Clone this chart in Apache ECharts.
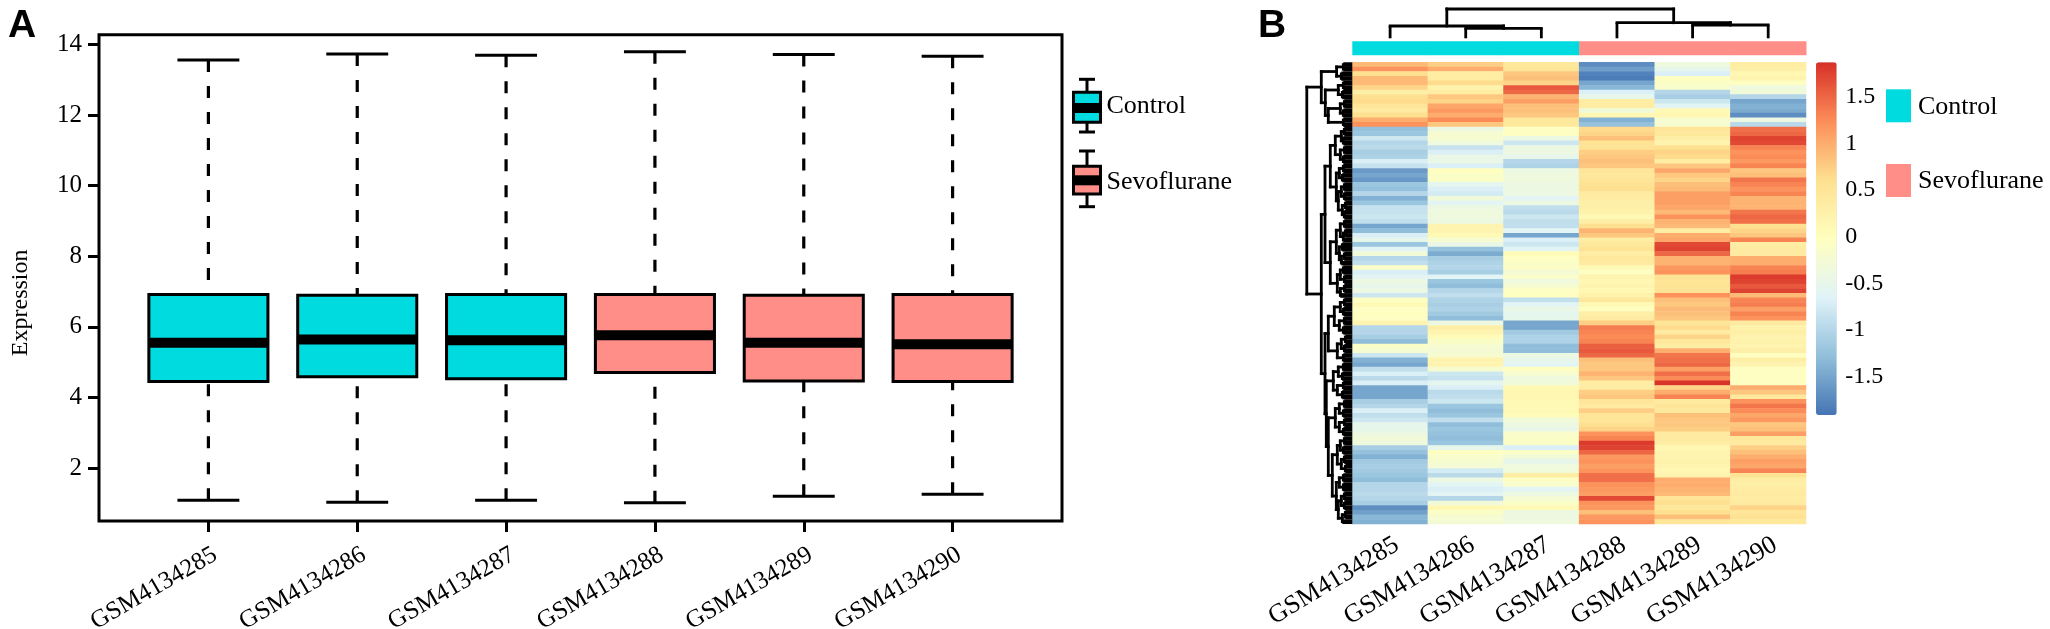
<!DOCTYPE html>
<html><head><meta charset="utf-8">
<style>html,body{margin:0;padding:0;background:#fff}#c{width:2050px;height:629px}</style>
<script src="https://cdn.jsdelivr.net/npm/echarts@6/dist/echarts.min.js"></script>
</head><body><div id="c"></div>
<script>
const samples = ['GSM4134285','GSM4134286','GSM4134287','GSM4134288','GSM4134289','GSM4134290'];
const groups = ['Control','Control','Control','Sevoflurane','Sevoflurane','Sevoflurane'];
const lowerWhisker = [1.09,1.03,1.09,1.02,1.20,1.26];
const q1 = [4.45,4.59,4.53,4.71,4.47,4.45];
const median = [5.55,5.64,5.62,5.76,5.55,5.51];
const q3 = [6.92,6.90,6.92,6.92,6.90,6.92];
const upperWhisker = [13.56,13.73,13.70,13.80,13.72,13.67];
const yTicks = [2,4,6,8,10,12,14];
const colorbarTicks = [-1.5,-1,-0.5,0,0.5,1,1.5];
const heatColors = ['#4575B4','#91BFDB','#E0F3F8','#FFFFBF','#FEE090','#FC8D59','#D73027'];
const groupColors = {Control:'#00DBE0',Sevoflurane:'#FF8E88'};

const col285 = [.9,1.2,.6,.9,.9,.7,.3,.6,.65,.5,.4,.6,1.0,1.2,
-1.25,-1.2,-.8,-1.0,-.95,-1.1,-1.05,-.7,-.85,-1.6,-1.5,-1.6,-1.2,-1.25,-1.0,-1.4,-1.2,-.85,-.85,-.8,
-.9,-1.5,-1.3,-.7,-.5,-1.2,-.6,-.3,-1.0,-.9,-.1,-.7,-.6,-.4,-.5,-.4,-.8,-.05,.1,-.05,0,-.05,.2,-1.0,-1.0,-1.1,-1.3,-.1,-.2,-.8,-1.4,-1.5,-.9,
-.7,-.95,-.7,-1.5,-1.5,-1.5,-1.1,-1.0,-.7,-.9,-.8,-.5,-.5,-.4,-.3,-.35,-1.1,-1.25,-1.4,-1.15,-1.1,-1.15,-1.2,-1.3,-1.0,-1.0,-.95,-1.0,-1.1,-1.7,-1.55,-1.35,-1.4];
const col286 = [.75,1.0,.35,.35,.65,.25,.35,.8,.7,1.05,1.15,1.0,1.25,.8,
-.4,-.2,-.2,-.35,-.85,-.7,-.45,-.45,-.7,0,-.1,-.1,-.55,-.7,-.75,-.3,-.6,-.4,-.35,-.35,
-.4,.2,.2,.1,-.2,-.45,-1.25,-1.45,-1.1,-1.05,-1.0,-1.1,-.6,-1.2,-1.3,-1.0,-.9,-1.05,-1.1,-1.05,-1.15,-1.3,-.4,.3,.2,.05,-.1,-.2,-.25,-.2,.2,.2,-.2,
-.8,-.85,-.55,-.7,-.95,-.9,-.8,-1.2,-1.3,-1.2,-.9,-1.3,-1.2,-1.25,-1.3,-1.2,-.5,-.05,-.15,-.2,-.25,-.75,-.95,-.4,-.6,-.7,-.6,-1.0,-.3,.15,-.1,-.2,-.25];
const col287 = [.45,.5,.8,.85,.7,1.6,1.5,.95,1.1,.85,.85,.8,.45,.45,
-.05,-.05,-.4,-.8,-.4,-.4,-.5,-1.0,-1.05,-.4,-.35,-.35,-.4,-.4,-.4,-.6,-.4,-.9,-.95,-.8,
-.9,-.9,-.6,-1.5,-.7,-.8,-.6,.05,-.05,-.1,-.1,-.25,-.15,-.35,-.2,-.05,-.05,-.9,-.6,-.45,-.55,-.5,-1.5,-1.5,-1.15,-1.05,-1.05,-1.3,-1.3,-.4,-.5,-.6,-.05,
-.2,-.35,-.3,.1,.15,.15,.1,.1,.1,.05,-.3,-.4,-.45,-.15,-.1,-.1,-.7,-.1,-.3,-.5,-.35,-.3,.35,-.1,-.15,-.6,-.4,-.25,-.1,.1,-.4,-.4,-.35];
const col288 = [-1.7,-1.55,-1.8,-1.85,-1.5,-1.35,-.7,-.5,.35,.35,-.3,.15,-1.4,-1.25,
.65,.7,.85,.55,.55,.75,.8,.85,.8,.5,.45,.5,.55,.6,.4,.35,.3,.3,.25,.1,
.3,.6,.95,.8,.35,.45,.55,.35,.45,.4,.1,-.05,.2,.15,.2,.15,.25,.45,.1,0,.3,.4,.75,1.35,1.3,1.25,1.3,1.55,1.6,1.5,.85,.8,.8,
.95,.8,.35,.35,.75,.8,.5,.4,.75,.5,.5,.6,.7,1.2,1.3,1.8,1.75,1.5,1.15,1.2,1.1,1.2,1.45,1.45,1.2,1.15,1.1,1.7,1.2,1.15,.85,1.15,1.2];
const col289 = [-.35,-.5,-.7,-.05,-.1,-.15,-1.0,-1.1,-.8,-.6,.1,.15,-.2,-.2,
.5,.45,.3,.2,.6,.7,.65,.35,.8,1.05,.8,.7,.85,.9,1.1,1.1,1.1,1.05,.9,1.2,
.95,.9,.35,1.0,1.05,1.7,1.75,1.5,.95,.95,1.15,1.2,.55,.5,.55,.55,1.2,.85,.8,.9,.85,.8,.5,.65,.4,.7,.45,.35,1.0,1.4,1.45,1.5,1.1,
1.45,1.25,1.85,.7,1.0,1.3,.4,.5,.45,.85,.8,.8,.75,.4,.4,.35,.15,.2,.2,.25,.2,.15,.2,1.0,1.0,.95,.9,.5,.6,.45,.6,.85,.5];
const col290 = [.35,.3,.15,.2,-.05,-.35,-.3,-1.0,-1.5,-1.4,-1.45,-1.7,-.4,-.95,
1.45,1.5,1.75,1.7,1.3,1.2,1.25,1.15,1.3,.8,.85,1.4,1.3,1.2,1.3,.95,.95,.95,1.4,1.5,
1.45,.6,.7,.8,1.3,.35,.4,.4,1.0,1.0,1.3,1.35,1.8,1.75,1.6,1.75,.9,1.3,1.35,1.1,1.3,1.2,.4,.25,.3,.2,.25,.2,.3,-.05,.3,.2,-.05,
-.05,-.05,-.05,1.0,.8,.45,1.2,1.4,1.25,1.05,1.15,.8,.85,1.1,.45,.4,.75,.85,1.0,1.1,1.05,1.3,.55,.35,.3,.35,.4,.35,.4,.7,.5,.55,.45];
const heatColumns = [col285,col286,col287,col288,col289,col290];

// Dendrograms: [height, firstChild, secondChild]; a bare number is a leaf position.
const colTree = [29.3,[12.3,0,[10,1,2]],[15.6,3,[13.3,4,5]]];
const rowTree = [45.5,
 [31,[15.7,[9,0,1],[11,2,3]],[27,[14,[9,4,5],[10,6,7]],[24,[12,[8,8,9],[9,10,11]],[9,12,13]]]],
 [31,
  [27.3,
   [22,[17,[11,[8,14,15],[9,16,17]],[12,[8,18,19],[9,20,21]]],
       [16,[13,[9,22,23],[10,24,25]],[14,[11,[8,26,27],[8,28,29]],[10,[7,30,31],[8,32,33]]]]],
   [22,[16,[12,[8,34,35],[9,[7,36,37],38]],[13,[10,39,40],[11,[8,41,42],43]]],
       [15,[12,[9,44,45],[8,46,47]],[12,[8,48,49],50]]]],
  [27.3,
   [24,[18,[12,[8,51,52],[9,53,54]],[13,[8,55,56],[9,57,58]]],[15,[11,[7,59,60],[8,61,62]],[9,63,64]]],
   [26,[19,[14,[9,65,66],[10,67,68]],[15,[9,69,70],[10,71,72]]],
       [24,[17,[13,[8,73,74],[9,75,76]],[13,[8,77,78],[9,79,80]]],
           [20,[15,[12,[8,81,82],[9,83,84]],[11,[8,85,86],[7,87,88]]],
               [16,[13,[9,89,90],[9,91,92]],[14,[11,[8,93,94],[8,95,96]],[10,[7,97,98],99]]]]]]]]];

function flatten(node, out){
  if(typeof node==='number') return {pos:node,h:0};
  const a=flatten(node[1],out), b=flatten(node[2],out), h=node[0];
  out.push([a.pos,h,b.pos,h,0]);
  out.push([a.pos,h,a.pos,a.h,a.h===0?1:0]);
  out.push([b.pos,h,b.pos,b.h,b.h===0?1:0]);
  return {pos:(a.pos+b.pos)/2,h};
}
const colSegs=[]; flatten(colTree,colSegs);
const rowSegs=[]; flatten(rowTree,rowSegs);

const heatData=[];
heatColumns.forEach((c,x)=>c.forEach((v,y)=>heatData.push([x,y,v])));
const rowLabels=col285.map((_,i)=>String(i));
const boxData=samples.map((s,i)=>[i+1,lowerWhisker[i],q1[i],median[i],q3[i],upperWhisker[i],groups[i]]);

const serif='"Liberation Serif","Times New Roman",serif';
const hidden={show:false};

function renderBox(params,api){
  const x=api.value(0), lo=api.value(1), a=api.value(2), m=api.value(3), b=api.value(4), hi=api.value(5);
  const color=groupColors[boxData[params.dataIndex][6]];
  const P=(px,py)=>api.coord([px,py]);
  const line=(p,q,w,dash)=>({type:'line',shape:{x1:p[0],y1:p[1],x2:q[0],y2:q[1]},
    style:{stroke:'#000',lineWidth:w,lineDash:dash||null,fill:null}});
  const tl=P(x-.4,b), br=P(x+.4,a);
  return {type:'group',children:[
    line(P(x,hi),P(x,b),3.2,[12,14]),
    line(P(x,lo),P(x,a),3.2,[12,14]),
    line(P(x-.208,hi),P(x+.208,hi),3),
    line(P(x-.208,lo),P(x+.208,lo),3),
    {type:'rect',shape:{x:tl[0],y:tl[1],width:br[0]-tl[0],height:br[1]-tl[1]},style:{fill:color,stroke:'#000',lineWidth:3}},
    line(P(x-.4,m),P(x+.4,m),10)
  ]};
}
function renderSeg(params,api){
  const p=api.coord([api.value(0),api.value(1)]), q=api.coord([api.value(2),api.value(3)]);
  return {type:'line',shape:{x1:p[0],y1:p[1],x2:q[0],y2:q[1]},
    style:{stroke:'#000',lineWidth:2.8,lineCap:api.value(4)===1?'butt':'square',fill:null}};
}
function renderSegRow(params,api){
  const p=api.coord([api.value(1),api.value(0)]), q=api.coord([api.value(3),api.value(2)]);
  return {type:'line',shape:{x1:p[0],y1:p[1],x2:q[0],y2:q[1]},
    style:{stroke:'#000',lineWidth:api.value(4)===1?4.7:2.8,lineCap:api.value(4)===1?'butt':'square',fill:null}};
}
function renderAnn(params,api){
  const i=api.value(0);
  const tl=api.coord([i-.5,1]), br=api.coord([i+.5,0]);
  return {type:'rect',shape:{x:tl[0],y:tl[1],width:br[0]-tl[0]+.5,height:br[1]-tl[1]},
    style:{fill:groupColors[groups[i]]}};
}
function legendBox(cx,capT,boxT,boxB,med,capB,color,label,textY){
  const l=(x1,y1,x2,y2,w)=>({type:'line',shape:{x1,y1,x2,y2},style:{stroke:'#000',lineWidth:w}});
  return [
    l(cx-8,capT,cx+8,capT,3), l(cx,capT,cx,boxT,3), l(cx-8,capB,cx+8,capB,3), l(cx,boxB,cx,capB,3),
    {type:'rect',shape:{x:cx-13.5,y:boxT,width:27,height:boxB-boxT},style:{fill:color,stroke:'#000',lineWidth:3}},
    l(cx-13.5,med,cx+13.5,med,10),
    {type:'text',x:1106.5,y:textY,style:{text:label,font:'26px '+serif,fill:'#000',textVerticalAlign:'middle'}}
  ];
}
function legendSwatch(y,color,label){
  return [
    {type:'rect',shape:{x:1886,y:y,width:25,height:33},style:{fill:color}},
    {type:'text',x:1918,y:y+17.5,style:{text:label,font:'26px '+serif,fill:'#000',textVerticalAlign:'middle'}}
  ];
}

const HM={left:1352.3,width:453.7,top:62.3,height:461.7};
const G={outerBoundsMode:'none'};
const option={
  animation:false,
  backgroundColor:'#fff',
  grid:[
    {...G,left:99,top:34.7,width:963,height:486.3,show:true,borderColor:'#000',borderWidth:3,backgroundColor:'transparent'},
    {...G,left:HM.left,top:HM.top,width:HM.width,height:HM.height},
    {...G,left:HM.left,top:41.3,width:HM.width,height:14},
    {...G,left:HM.left,top:9,width:HM.width,height:29.3},
    {...G,left:HM.left-46,top:HM.top,width:46,height:HM.height},
    {...G,left:1836.7,top:62.3,width:1,height:352.7}
  ],
  xAxis:[
    {gridIndex:0,type:'value',min:.265,max:6.735,splitLine:hidden,axisLine:hidden,
     axisTick:{show:true,length:11,lineStyle:{width:3,color:'#000'},customValues:[1,2,3,4,5,6]},
     axisLabel:{show:true,customValues:[1,2,3,4,5,6],formatter:v=>samples[v-1],rotate:30,margin:36,
       padding:[0,-8,0,0],color:'#000',fontFamily:serif,fontSize:25,hideOverlap:false}},
    {gridIndex:1,type:'category',data:samples,axisLine:hidden,axisTick:hidden,splitLine:hidden,
     axisLabel:{show:true,interval:0,rotate:31,margin:23,padding:[0,-8,0,0],color:'#000',fontFamily:serif,fontSize:26}},
    {gridIndex:2,type:'value',min:-.5,max:5.5,show:false},
    {gridIndex:3,type:'value',min:-.5,max:5.5,show:false},
    {gridIndex:4,type:'value',min:0,max:46,inverse:true,show:false},
    {gridIndex:5,type:'value',min:0,max:1,show:false}
  ],
  yAxis:[
    {gridIndex:0,type:'value',min:.5,max:14.28,splitLine:hidden,axisLine:hidden,
     name:'Expression',nameLocation:'middle',nameGap:66,nameRotate:90,
     nameTextStyle:{color:'#000',fontFamily:serif,fontSize:24,padding:[0,50,0,0]},
     axisTick:{show:true,length:11,lineStyle:{width:3,color:'#000'},customValues:yTicks},
     axisLabel:{show:true,customValues:yTicks,margin:17,padding:[4,0,0,0],color:'#000',fontFamily:serif,fontSize:25}},
    {gridIndex:1,type:'category',data:rowLabels,inverse:true,show:false},
    {gridIndex:2,type:'value',min:0,max:1,show:false},
    {gridIndex:3,type:'value',min:0,max:29.3,show:false},
    {gridIndex:4,type:'value',min:-.5,max:99.5,inverse:true,show:false},
    {gridIndex:5,type:'value',min:-1.91,max:1.87,position:'right',splitLine:hidden,axisLine:hidden,axisTick:hidden,
     axisLabel:{show:true,customValues:colorbarTicks,margin:7.5,color:'#000',fontFamily:serif,fontSize:24,formatter:v=>String(v)}}
  ],
  visualMap:[{type:'continuous',seriesIndex:1,min:-1.91,max:1.87,left:1816,top:62.3,itemWidth:20.7,itemHeight:352.7,
    padding:0,calculable:false,hoverLink:false,realtime:false,inRange:{color:heatColors},text:null,show:true}],
  series:[
    {name:'Expression',type:'custom',xAxisIndex:0,yAxisIndex:0,data:boxData,renderItem:renderBox,encode:{x:0,y:[1,5]}},
    {name:'Z-score',type:'heatmap',xAxisIndex:1,yAxisIndex:1,data:heatData,progressive:0,itemStyle:{borderWidth:0}},
    {name:'Group',type:'custom',xAxisIndex:2,yAxisIndex:2,data:samples.map((s,i)=>[i]),renderItem:renderAnn},
    {name:'colDendrogram',type:'custom',xAxisIndex:3,yAxisIndex:3,data:colSegs,renderItem:renderSeg},
    {name:'rowDendrogram',type:'custom',xAxisIndex:4,yAxisIndex:4,data:rowSegs,renderItem:renderSegRow},
    {name:'colorbarAxis',type:'custom',xAxisIndex:5,yAxisIndex:5,data:[],renderItem:()=>null}
  ],
  graphic:[
    {type:'text',x:8,y:26,style:{text:'A',font:'bold 39px "Liberation Sans",Arial,sans-serif',fill:'#000',textVerticalAlign:'middle'}},
    {type:'text',x:1258,y:26,style:{text:'B',font:'bold 39px "Liberation Sans",Arial,sans-serif',fill:'#000',textVerticalAlign:'middle'}},
    ...legendBox(1087,79.3,92.3,122.3,108,132,groupColors.Control,'Control',106),
    ...legendBox(1087,151,166.3,194,180.3,206.7,groupColors.Sevoflurane,'Sevoflurane',182),
    ...legendSwatch(89.3,groupColors.Control,'Control'),
    ...legendSwatch(164,groupColors.Sevoflurane,'Sevoflurane')
  ]
};
const chart=echarts.init(document.getElementById('c'),null,{renderer:'canvas',width:2050,height:629});
chart.setOption(option);
</script></body></html>
